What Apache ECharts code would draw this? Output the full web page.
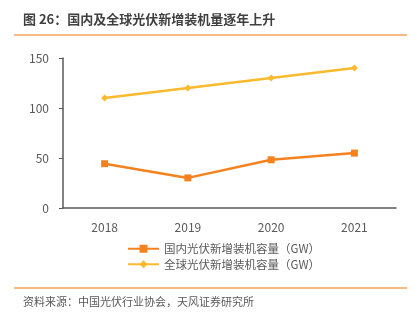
<!DOCTYPE html>
<html><head><meta charset="utf-8">
<script src="https://cdn.jsdelivr.net/npm/echarts@6/dist/echarts.min.js"></script>
<style>html,body{margin:0;padding:0;background:#fff}#c{width:419px;height:321px}</style>
</head><body><div id="c"></div>
<script>
const categories = ['2018', '2019', '2020', '2021'];
const domestic = [44.3, 30.1, 48.2, 54.9];
const global = [110, 120, 130, 140];
const yTicks = [0, 50, 100, 150];
const titleText = '图 26：国内及全球光伏新增装机量逐年上升';
const sourceText = '资料来源：中国光伏行业协会，天风证券研究所';
const nameDomestic = '国内光伏新增装机容量（GW）';
const nameGlobal = '全球光伏新增装机容量（GW）';

const chart = echarts.init(document.getElementById('c'), null, {renderer: 'canvas'});
const font = '"Noto Sans CJK SC", "Microsoft YaHei", sans-serif';
chart.setOption({
  animation: false,
  textStyle: {fontFamily: font},
  graphic: [
    {type: 'text', left: 23, top: 13, style: {text: titleText, font: 'bold 13px ' + font, fill: '#404040'}},
    {type: 'line', shape: {x1: 14, y1: 35, x2: 407, y2: 35}, style: {stroke: '#F7A25A', lineWidth: 1.5}},
    {type: 'line', shape: {x1: 14, y1: 288, x2: 407, y2: 288}, style: {stroke: '#F7A25A', lineWidth: 1.5}},
    {type: 'text', left: 23, top: 296, style: {text: sourceText, font: '11px ' + font, fill: '#595959'}}
  ],
  grid: {left: 63, right: 23, top: 58, bottom: 113},
  legend: {
    orient: 'vertical', left: 122, top: 238, itemGap: 4, itemWidth: 31, itemHeight: 10,
    textStyle: {fontSize: 11.5, color: '#595959', fontFamily: font},
    data: [nameDomestic, nameGlobal]
  },
  xAxis: {
    type: 'category', data: categories, boundaryGap: true,
    axisLine: {lineStyle: {color: '#595959', width: 1.5}},
    axisTick: {show: false},
    axisLabel: {color: '#595959', fontSize: 12, margin: 13}
  },
  yAxis: {
    type: 'value', min: yTicks[0], max: yTicks[yTicks.length - 1], interval: 50,
    splitLine: {show: false},
    axisLine: {show: true, lineStyle: {color: '#595959', width: 1.5}},
    axisTick: {show: true, length: 4, lineStyle: {color: '#595959'}},
    axisLabel: {color: '#595959', fontSize: 12, margin: 14}
  },
  series: [
    {name: nameDomestic, type: 'line', data: domestic, symbol: 'rect', symbolSize: 7,
     itemStyle: {color: '#F5821F'}, lineStyle: {width: 2.5, color: '#F5821F'}},
    {name: nameGlobal, type: 'line', data: global, symbol: 'diamond', symbolSize: 7,
     itemStyle: {color: '#FBBA2E'}, lineStyle: {width: 2.5, color: '#FBBA2E'}}
  ]
});
</script></body></html>
